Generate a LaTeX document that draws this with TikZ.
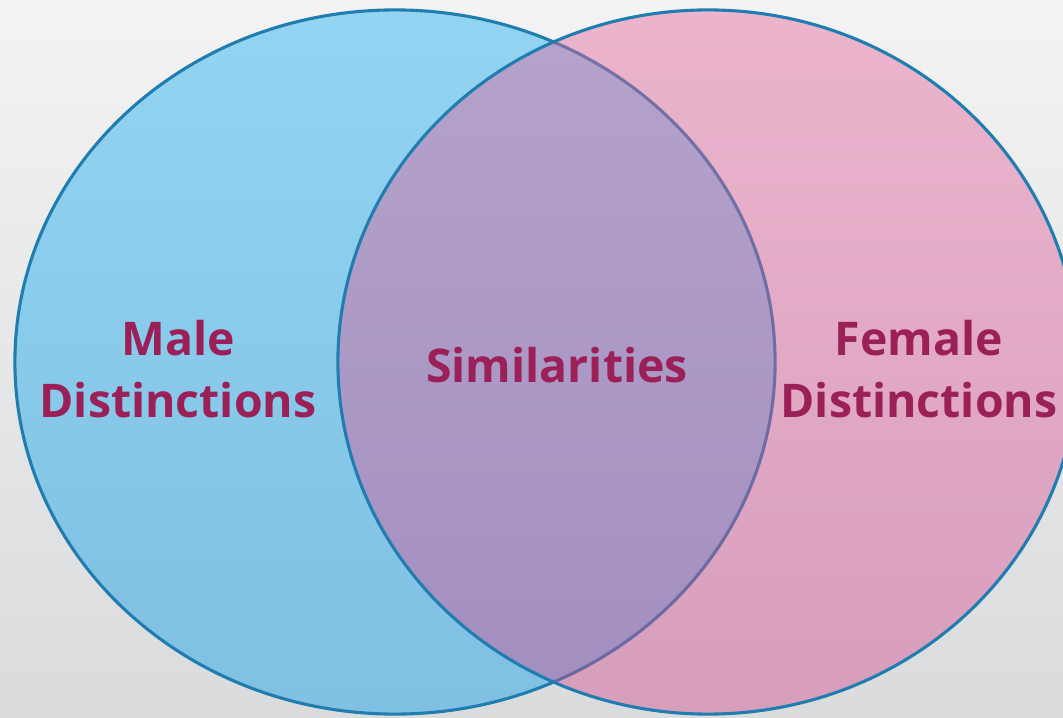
\documentclass[tikz,border=0pt]{standalone}
\usepackage{fontspec}
\setmainfont{Open Sans}
\usepackage{tikz}

\definecolor{bgtop}{RGB}{243,243,243}
\definecolor{bgbottom}{RGB}{218,219,221}
\definecolor{setedge}{RGB}{31,125,176}
\definecolor{maletop}{RGB}{146,212,241}
\definecolor{malebottom}{RGB}{127,192,227}
\definecolor{femaletop}{RGB}{228,100,156}
\definecolor{femalebottom}{RGB}{210,78,144}
\definecolor{labelred}{RGB}{155,32,88}

\begin{document}
\begin{tikzpicture}[x=0.025cm, y=-0.025cm]
    \tikzstyle{set edge}=[draw=setedge, line width=2.2pt]
    \tikzstyle{set label}=[text=labelred, font=\bfseries\fontsize{33}{44}\selectfont, align=center]

    % Draw the background
    \shade[top color=bgtop, bottom color=bgbottom] (0,0) rectangle (1063,717);
    \useasboundingbox (0,0) rectangle (1063,717);

    % Draw the two sets, the female one see-through
    \shade[set edge, top color=maletop, bottom color=malebottom]
        (395,362) ellipse [x radius=9.5cm, y radius=8.8cm];
    \shade[set edge, top color=femaletop, bottom color=femalebottom, fill opacity=0.43]
        (708,362) ellipse [x radius=9.25cm, y radius=8.8cm];

    % Label the three regions
    \node[set label] (male) at (178,369) {Male\\Distinctions};
    \node[set label] (common) at (557,365) {Similarities};
    \node[set label] (female) at (919,369) {Female\\Distinctions};
\end{tikzpicture}
\end{document}
